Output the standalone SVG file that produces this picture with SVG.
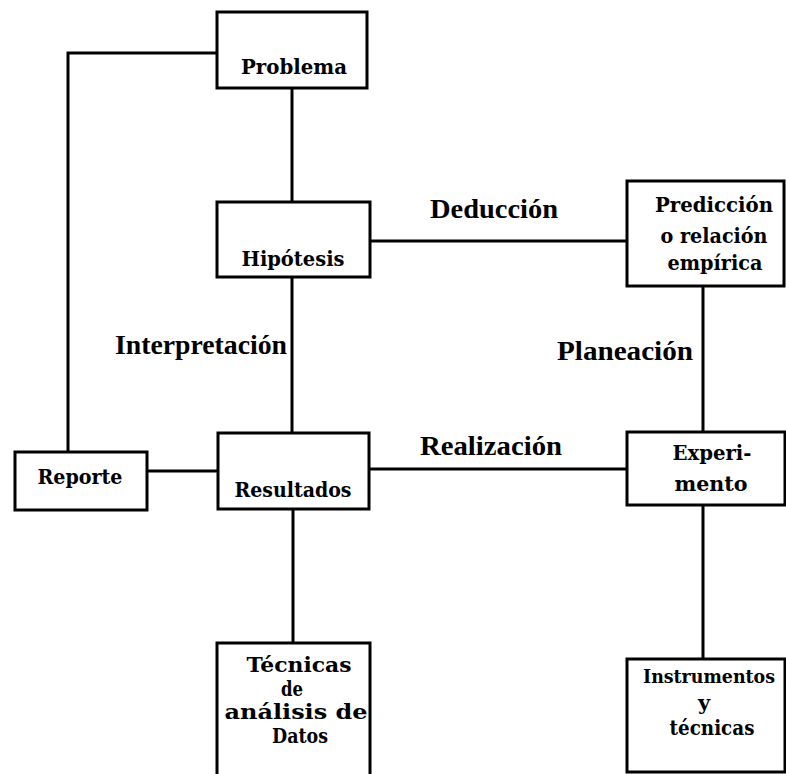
<svg xmlns="http://www.w3.org/2000/svg" width="786" height="774" viewBox="0 0 786 774">
<style>
.box{fill:#fff;stroke:#000;stroke-width:3}
.ln{fill:none;stroke:#000;stroke-width:3}
.t{font-family:"DejaVu Serif","Liberation Serif",serif;font-size:21px;font-weight:bold;text-anchor:middle;fill:#000}
.lb{font-family:"Liberation Serif","DejaVu Serif",serif;font-size:28px;font-weight:bold;fill:#000}
</style>
<rect width="786" height="774" fill="#fff"/>
<g id="connectors">
<polyline class="ln" points="217,53 68,53 68,452"/>
<line class="ln" x1="292" y1="88" x2="292" y2="202"/>
<line class="ln" x1="292" y1="277" x2="292" y2="433"/>
<line class="ln" x1="370" y1="241" x2="627" y2="241"/>
<line class="ln" x1="703" y1="286" x2="703" y2="432"/>
<line class="ln" x1="147" y1="471" x2="218" y2="471"/>
<line class="ln" x1="369" y1="469" x2="627" y2="469"/>
<line class="ln" x1="293" y1="509" x2="293" y2="643"/>
<line class="ln" x1="703" y1="505" x2="703" y2="659"/>
<text class="lb" x="430" y="218" textLength="128" lengthAdjust="spacingAndGlyphs">Deducción</text>
<text class="lb" x="115" y="354" textLength="172" lengthAdjust="spacingAndGlyphs">Interpretación</text>
<text class="lb" x="557" y="360" textLength="136" lengthAdjust="spacingAndGlyphs">Planeación</text>
<text class="lb" x="420" y="455" textLength="142" lengthAdjust="spacingAndGlyphs">Realización</text>
</g>
<g id="problema">
<rect class="box" x="217" y="12" width="150" height="76"/>
<text class="t" x="294" y="74" textLength="106" lengthAdjust="spacingAndGlyphs">Problema</text>
</g>
<g id="hipotesis">
<rect class="box" x="217" y="202" width="153" height="75"/>
<text class="t" x="293" y="266" textLength="103" lengthAdjust="spacingAndGlyphs">Hipótesis</text>
</g>
<g id="prediccion">
<rect class="box" x="627" y="181" width="157" height="105"/>
<text class="t" x="714" y="212" textLength="118" lengthAdjust="spacingAndGlyphs">Predicción</text>
<text class="t" x="714" y="243" textLength="107" lengthAdjust="spacingAndGlyphs">o relación</text>
<text class="t" x="715" y="270" textLength="95" lengthAdjust="spacingAndGlyphs">empírica</text>
</g>
<g id="reporte">
<rect class="box" x="15" y="452" width="132" height="58"/>
<text class="t" x="80" y="484" textLength="85" lengthAdjust="spacingAndGlyphs">Reporte</text>
</g>
<g id="resultados">
<rect class="box" x="218" y="433" width="151" height="76"/>
<text class="t" x="293" y="497" textLength="117" lengthAdjust="spacingAndGlyphs">Resultados</text>
</g>
<g id="experimento">
<rect class="box" x="627" y="432" width="158" height="73"/>
<text class="t" x="712" y="460" textLength="79" lengthAdjust="spacingAndGlyphs">Experi-</text>
<text class="t" x="711" y="491" textLength="73" lengthAdjust="spacingAndGlyphs">mento</text>
</g>
<g id="tecnicas">
<rect class="box" x="217" y="643" width="153" height="140"/>
<text class="t" x="299" y="672" textLength="105" lengthAdjust="spacingAndGlyphs">Técnicas</text>
<text class="t" x="292" y="696" textLength="22" lengthAdjust="spacingAndGlyphs">de</text>
<text class="t" x="296" y="719" textLength="143" lengthAdjust="spacingAndGlyphs">análisis de</text>
<text class="t" x="300" y="743" textLength="56" lengthAdjust="spacingAndGlyphs">Datos</text>
</g>
<g id="instrumentos">
<rect class="box" x="627" y="659" width="158" height="113"/>
<text class="t" x="709" y="683" style="font-size:18px" textLength="132" lengthAdjust="spacingAndGlyphs">Instrumentos</text>
<text class="t" x="704" y="710">y</text>
<text class="t" x="712" y="735" textLength="85" lengthAdjust="spacingAndGlyphs">técnicas</text>
</g>
</svg>
